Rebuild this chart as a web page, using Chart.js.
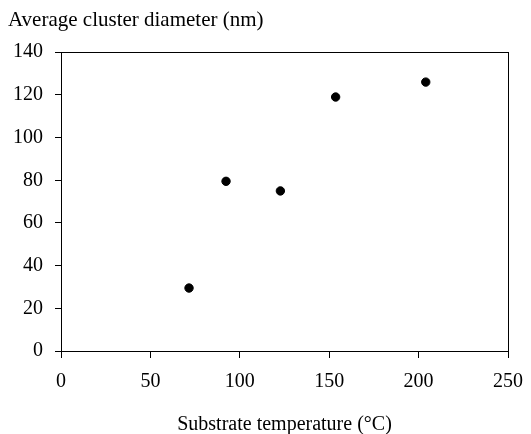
<!DOCTYPE html>
<html>
<head>
<meta charset="utf-8">
<script src="https://cdn.jsdelivr.net/npm/chart.js@4.4.1/dist/chart.umd.min.js"></script>
<style>
html,body{margin:0;padding:0;background:#fff;}
#wrap{width:531px;height:434px;}
</style>
</head>
<body>
<div id="wrap"><canvas id="c" width="531" height="434"></canvas></div>
<script>
const temperatures = [71.6, 92.3, 122.7, 153.6, 204];
const diameters = [29.5, 79.5, 75, 119, 126];
const xTicks = [0, 50, 100, 150, 200, 250];
const yTicks = [0, 20, 40, 60, 80, 100, 120, 140];
const titleText = 'Average cluster diameter (nm)';
const xTitle = 'Substrate temperature (\u00B0C)';

const FONT = "'Liberation Serif', 'Times New Roman', serif";

const frame = {
  id: 'frame',
  afterDatasetsDraw(chart) {
    const a = chart.chartArea, ctx = chart.ctx;
    ctx.save();
    ctx.strokeStyle = '#000';
    ctx.lineWidth = 1;
    ctx.strokeRect(Math.round(a.left) + 0.5, Math.round(a.top) + 0.5,
      Math.round(a.right - a.left), Math.round(a.bottom - a.top));
    ctx.restore();
  }
};

new Chart(document.getElementById('c'), {
  type: 'scatter',
  data: {
    datasets: [{
      data: temperatures.map((t, i) => ({x: t, y: diameters[i]})),
      backgroundColor: '#000',
      borderColor: '#000',
      pointRadius: 4.2,
      pointHoverRadius: 4.2
    }]
  },
  options: {
    responsive: false,
    animation: false,
    events: [],
    layout: {padding: {left: 8, right: 23, top: 0, bottom: 0}},
    plugins: {
      legend: {display: false},
      tooltip: {enabled: false},
      title: {
        display: true,
        text: titleText,
        align: 'start',
        color: '#000',
        font: {family: FONT, size: 21, weight: 'normal'},
        padding: {top: 8, bottom: 19}
      }
    },
    scales: {
      x: {
        type: 'linear',
        min: 0, max: 250,
        afterBuildTicks(s) { s.ticks = xTicks.map(v => ({value: v})); },
        afterFit(s) { s.height = 83; s.paddingRight = 0; s.paddingLeft = 0; },
        ticks: {color: '#000', font: {family: FONT, size: 20}, padding: 12, maxRotation: 0},
        grid: {display: true, drawOnChartArea: false, drawTicks: true, tickLength: 7, color: '#000'},
        border: {display: true, color: '#000'},
        title: {display: true, text: xTitle, color: '#000', font: {family: FONT, size: 20}, padding: {top: 0, bottom: -3}}
      },
      y: {
        type: 'linear',
        min: 0, max: 140,
        afterBuildTicks(s) { s.ticks = yTicks.map(v => ({value: v})); },
        afterFit(s) { s.width = 53; s.paddingTop = 0; s.paddingBottom = 0; },
        ticks: {color: '#000', font: {family: FONT, size: 20}, padding: 12},
        grid: {display: true, drawOnChartArea: false, drawTicks: true, tickLength: 6, color: '#000'},
        border: {display: true, color: '#000'}
      }
    }
  },
  plugins: [frame]
});
</script>
</body>
</html>
